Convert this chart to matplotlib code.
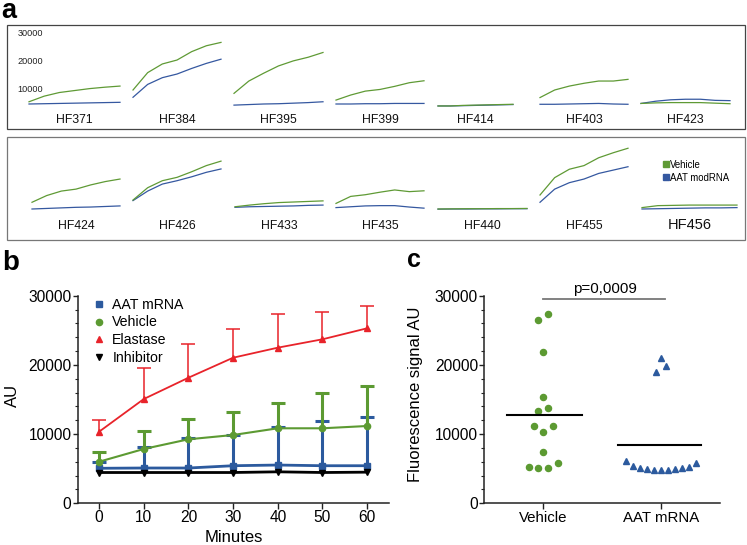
import numpy as np
import matplotlib
matplotlib.use('Agg')
import matplotlib.pyplot as plt
from matplotlib.lines import Line2D
from matplotlib.patches import Rectangle
from matplotlib.ticker import MultipleLocator, FixedLocator
from matplotlib.transforms import blended_transform_factory

plt.rcParams['font.family'] = ['Liberation Sans', 'DejaVu Sans']

# ---------------- data : panel a ----------------
minutes_a = [0, 10, 20, 30, 40, 50, 60]
donors_top = ['HF371', 'HF384', 'HF395', 'HF399', 'HF414', 'HF403', 'HF423']
vehicle_top = [
    [5800, 7800, 9100, 9800, 10500, 11000, 11400],
    [10000, 16200, 19300, 20700, 23700, 25800, 27000],
    [8800, 13200, 16000, 18600, 20400, 21700, 23400],
    [6400, 8200, 9600, 10200, 11300, 12600, 13300],
    [4300, 4300, 4500, 4600, 4700, 4800, 4900],
    [7300, 10000, 11400, 12400, 13200, 13200, 13800],
    [5200, 5400, 5500, 5500, 5500, 5300, 5100],
]
modrna_top = [
    [5000, 5100, 5200, 5300, 5400, 5500, 5600],
    [7400, 12000, 14400, 15700, 17700, 19500, 21000],
    [4600, 4800, 5000, 5100, 5300, 5500, 5800],
    [5000, 5000, 5100, 5100, 5200, 5200, 5200],
    [4300, 4300, 4400, 4500, 4600, 4700, 4800],
    [4900, 4900, 5000, 5100, 5200, 5000, 4900],
    [5200, 6000, 6500, 6700, 6700, 6300, 6200],
]
donors_bot = ['HF424', 'HF426', 'HF433', 'HF435', 'HF440', 'HF455', 'HF456']
vehicle_bot = [
    [7400, 9800, 11400, 12100, 13600, 14800, 15700],
    [8200, 12600, 15100, 16300, 18300, 20500, 22100],
    [5800, 6400, 6900, 7300, 7500, 7700, 7900],
    [7000, 9500, 10100, 11000, 11800, 11200, 11500],
    [5000, 5050, 5100, 5100, 5150, 5150, 5200],
    [10000, 16200, 19200, 20500, 23300, 25100, 26700],
    [5500, 6200, 6300, 6400, 6400, 6400, 6400],
]
modrna_bot = [
    [5000, 5200, 5400, 5600, 5700, 5900, 6100],
    [8000, 11400, 13900, 15100, 16500, 18100, 19300],
    [5600, 5800, 5900, 6000, 6100, 6300, 6400],
    [5500, 5800, 6100, 6200, 6200, 5700, 5300],
    [4950, 5000, 5000, 5050, 5050, 5100, 5100],
    [7400, 12100, 14400, 15700, 17700, 18900, 20100],
    [5000, 5100, 5200, 5300, 5400, 5400, 5500],
]
a_ticks = [10000, 20000, 30000]
a_legend = ['Vehicle', 'AAT modRNA']

# ---------------- data : panel b ----------------
minutes = [0, 10, 20, 30, 40, 50, 60]
aat_mean = [5060, 5100, 5100, 5430, 5530, 5430, 5430]
aat_upper = [6000, 8180, 9390, 9870, 10980, 11940, 12430]
veh_mean = [6010, 7850, 9250, 9870, 10840, 10840, 11170]
veh_upper = [7460, 10450, 12140, 13240, 14540, 15900, 16950]
ela_mean = [10350, 15070, 18150, 21040, 22490, 23700, 25290]
ela_upper = [12040, 19600, 22980, 25190, 27310, 27690, 28510]
inh_mean = [4450, 4450, 4450, 4450, 4550, 4450, 4500]
b_yticks = [0, 10000, 20000, 30000]
b_labels = ['AAT mRNA', 'Vehicle', 'Elastase', 'Inhibitor']

# ---------------- data : panel c ----------------
c_groups = ['Vehicle', 'AAT mRNA']
veh_points = [27300, 26430, 21860, 15310, 13720, 13390, 11170, 11170,
              10260, 7370, 5300, 5060, 5150, 5870]
aat_points = [21040, 19840, 19020, 6110, 5440, 5150, 4960, 4820, 4820,
              4820, 4910, 5150, 5300, 5780]
p_text = 'p=0,0009'

# ---------------- style ----------------
GA = '#5f9a35'
BA = '#3558a0'
GREEN = '#5c9a32'
BLUE = '#2c5a9e'
RED = '#e8232a'

W, H = 747, 545
fig = plt.figure(figsize=(W / 100, H / 100), dpi=100)


def fx(px):
    return px / W


def fy(py):
    return (H - py) / H


# ---------- panel a ----------
for (y0, y1, ec) in [(25, 129, '#444444'), (137, 240, '#777777')]:
    fig.add_artist(Rectangle((fx(7), fy(y1)), fx(745) - fx(7), fy(y0) - fy(y1),
                             transform=fig.transFigure, fill=False,
                             edgecolor=ec, linewidth=0.9))

rows = [
    (donors_top, vehicle_top, modrna_top, 118, 122.7,
     [29, 133, 234, 336, 438, 540, 641], [91, 88, 89, 88, 75, 88, 89]),
    (donors_bot, vehicle_bot, modrna_bot, 223, 229.3,
     [32, 133, 235, 336, 438, 540, 642], [88, 88, 88, 88, 89, 88, 95]),
]
first_ax = None
for names, veh, mod, zero_px, base_px, lefts, widths in rows:
    for name, v, m, l, w in zip(names, veh, mod, lefts, widths):
        ax = fig.add_axes([fx(l), fy(zero_px), w / W, 84 / H])
        ax.set_xlim(0, 60)
        ax.set_ylim(0, 30000)
        ax.axis('off')
        ax.plot(minutes_a, m, color=BA, lw=0.9, clip_on=False)
        ax.plot(minutes_a, v, color=GA, lw=0.9, clip_on=False)
        fs = 10.5 if name == 'HF456' else 8.8
        ax.text(0.5, -(base_px - zero_px) / 84, name, transform=ax.transAxes,
                ha='center', va='baseline', fontsize=fs, color='#111111')
        if first_ax is None:
            first_ax = ax

tr = blended_transform_factory(fig.transFigure, first_ax.transData)
for t in a_ticks:
    first_ax.text(fx(17.5), t, str(t), transform=tr, ha='left', va='center',
                  fontsize=6.6, color='#222222', clip_on=False)

a_handles = [Line2D([], [], ls='none', marker='s', ms=4.3, color=GA, mec=GA),
             Line2D([], [], ls='none', marker='s', ms=4.3, color=BA, mec=BA)]
fig.legend(a_handles, a_legend, loc='upper left',
           bbox_to_anchor=(fx(662.7), fy(159.5)), bbox_transform=fig.transFigure,
           frameon=False, fontsize=6.9, handlelength=0.7, handletextpad=0.1,
           borderpad=0, borderaxespad=0, labelspacing=0.33)


def style_axes(ax):
    for s in ['top', 'right']:
        ax.spines[s].set_visible(False)
    for s in ['left', 'bottom']:
        ax.spines[s].set_color('#222222')
        ax.spines[s].set_linewidth(1.1)
    ax.tick_params(axis='both', which='major', length=3.5, width=1.0,
                   color='#222222', labelsize=11.2, pad=1)
    ax.tick_params(axis='y', which='minor', length=2.0, width=0.8,
                   color='#222222')
    ax.set_ylim(0, 30000)
    ax.yaxis.set_major_locator(FixedLocator(b_yticks))
    ax.yaxis.set_minor_locator(MultipleLocator(2000))
    ax.set_yticklabels([str(t) for t in b_yticks])


# ---------- panel b ----------
axb = fig.add_axes([fx(77.7), fy(503.3), (389 - 77.7) / W, (503.3 - 295.7) / H])
style_axes(axb)
axb.set_xlim(-4.8, 64.9)
axb.set_xticks(minutes)
axb.tick_params(axis='x', which='major', length=4.0, pad=0.5)

series = [
    (aat_mean, aat_upper, BLUE, 's', 4.0, 2.0, 2.2, 2),
    (veh_mean, veh_upper, GREEN, 'o', 4.5, 1.5, 2.2, 3),
    (ela_mean, ela_upper, RED, '^', 4.5, 1.3, 1.1, 4),
]
for mean, up, col, mk, ms, lw, elw, z in series:
    axb.vlines(minutes, mean, up, color=col, lw=elw, zorder=z)
    axb.plot(minutes, up, ls='none', marker='_', ms=9.5, mew=elw, color=col,
             zorder=z)
    axb.plot(minutes, mean, color=col, lw=lw, marker=mk, ms=ms, zorder=z + 0.5)
axb.plot(minutes, inh_mean, color='black', lw=2.0, marker='v', ms=4.5, zorder=6)

b_handles = [
    Line2D([], [], ls='none', marker='s', ms=4.0, color=BLUE),
    Line2D([], [], ls='none', marker='o', ms=4.5, color=GREEN),
    Line2D([], [], ls='none', marker='^', ms=4.5, color=RED),
    Line2D([], [], ls='none', marker='v', ms=4.5, color='black'),
]
axb.legend(b_handles, b_labels, loc='upper left', bbox_to_anchor=(0.046, 0.99),
           frameon=False, fontsize=10.2, handlelength=1.0, handletextpad=0.43,
           borderpad=0, borderaxespad=0, labelspacing=0.26)
axb.set_ylabel('AU', fontsize=12, va='center')
axb.yaxis.set_label_coords(-0.211, 0.52)
axb.set_xlabel('Minutes', fontsize=12, va='center')
axb.xaxis.set_label_coords(0.5, -0.165)


# ---------- panel c ----------
def prism_offsets(vals, gap=1400, spacing=0.082, maxwidth=0.6):
    vals = np.asarray(vals, dtype=float)
    order = np.argsort(vals, kind='stable')
    offs = np.zeros(len(vals))
    groups, cur = [], [order[0]]
    for i in order[1:]:
        if vals[i] - vals[cur[0]] <= gap:
            cur.append(i)
        else:
            groups.append(cur)
            cur = [i]
    groups.append(cur)
    for g in groups:
        n = len(g)
        s = min(spacing, maxwidth / (n - 1)) if n > 1 else 0.0
        if n % 2:
            slots = [0.0]
            for k in range(1, n):
                slots.append(((k + 1) // 2) * (1 if k % 2 else -1))
        else:
            slots = []
            for k in range(n):
                slots.append((k // 2 + 0.5) * (-1 if k % 2 == 0 else 1))
        for k, idx in enumerate(g):
            offs[idx] = slots[k] * s
    return offs


axc = fig.add_axes([fx(484.3), fy(503.3), (720 - 484.3) / W, (503.3 - 295.7) / H])
style_axes(axc)
axc.set_xlim(-0.5, 1.5)
axc.set_xticks([0, 1])
axc.set_xticklabels(c_groups, fontsize=10.8)
axc.tick_params(axis='x', which='major', length=4.0, pad=1.5)

xv = 0 + prism_offsets(veh_points)
xa = 1 + prism_offsets(aat_points)
axc.plot(xv, veh_points, ls='none', marker='o', ms=4.4, color=GREEN, zorder=3)
axc.plot(xa, aat_points, ls='none', marker='^', ms=4.2, color=BLUE, zorder=3)
axc.plot([-0.31, 0.33], [np.mean(veh_points)] * 2, color='black', lw=1.5, zorder=4)
axc.plot([1 - 0.365, 1 + 0.337], [np.mean(aat_points)] * 2, color='black', lw=1.5,
         zorder=4)
axc.plot([0, 1.03], [29480, 29480], color='#777777', lw=1.3, clip_on=False)
axc.text(0.52, 30320, p_text, ha='center', va='baseline', fontsize=10.9,
         clip_on=False)
axc.set_ylabel('Fluorescence signal AU', fontsize=12, va='center')
axc.yaxis.set_label_coords(-0.29, 0.524)

# ---------- panel letters ----------
fig.text(fx(1.5), fy(18.5), 'a', fontsize=19.5, fontweight='bold', va='baseline')
fig.text(fx(2), fy(270), 'b', fontsize=20, fontweight='bold', va='baseline')
fig.text(fx(407), fy(267), 'c', fontsize=18, fontweight='bold', va='baseline')

fig.savefig('out.png', dpi=100)
